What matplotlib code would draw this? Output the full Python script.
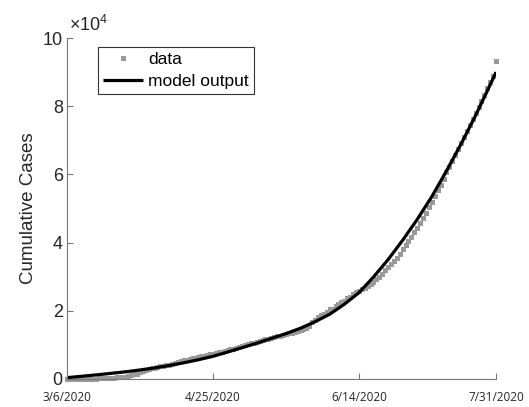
import numpy as np
from matplotlib import pyplot as plt

# cumulative cases, one value per day from 3/6/2020 to 7/31/2020
cases = [
	5, 6, 10, 20, 33, 49, 52, 64, 111, 140,
	142, 187, 202, 217, 230, 307, 380, 462, 552, 636,
	707, 803, 1075, 1418, 1546, 2084, 2311, 2633, 3018, 3094,
	3246, 3660, 3764, 3870, 4076, 4195, 4428, 4648, 4932, 5223,
	5453, 5660, 5878, 6087, 6259, 6459, 6599, 6710, 6981, 7192,
	7294, 7579, 7777, 7958, 8212, 8488, 8772, 8928, 9223, 9485,
	9684, 10004, 10343, 10463, 10610, 10794, 11086, 11350, 11618, 11876,
	12091, 12305, 12513, 12718, 12942, 13221, 13434, 13597, 13777, 14035,
	14319, 14669, 15049, 15588, 16634, 17224, 18086, 18638, 18997, 19748,
	20382, 20626, 21340, 21895, 22474, 22992, 23732, 24175, 24787, 25392,
	25930, 26420, 26781, 27238, 27799, 28459, 29400, 30052, 30682, 31825,
	32800, 33700, 34600, 35600, 36800, 38000, 39200, 40400, 41700, 43000,
	44400, 45800, 47300, 48800, 50400, 52000, 53700, 55300, 57000, 58700,
	60600, 62300, 64000, 65700, 67500, 69300, 71000, 72700, 74400, 76200,
	78000, 79800, 81600, 83400, 85200, 87000, 88900, 93354,
]
days = np.arange(len(cases))

# model output, every 5 days (plus last day)
model_days = [0, 5, 10, 15, 20, 25, 30, 35, 40, 45, 50, 55, 60, 65, 70, 75,
	80, 85, 90, 95, 100, 105, 110, 115, 120, 125, 130, 135, 140, 145, 147]
model = [400, 800, 1200, 1650, 2100, 2650, 3250, 3950, 4750, 5650, 6650,
	7900, 9200, 10500, 11900, 13300, 14900, 16800, 19000, 21900, 25300,
	29900, 35000, 40700, 46800, 53500, 61000, 68900, 77300, 86300, 90000]

x_ticks = [0, 50, 100, 147]
x_labels = ["3/6/2020", "4/25/2020", "6/14/2020", "7/31/2020"]
y_ticks = [0, 20000, 40000, 60000, 80000, 100000]
y_labels = ["0", "2", "4", "6", "8", "10"]

plt.rcParams["font.family"] = ["Liberation Sans", "DejaVu Sans"]
plt.rcParams["mathtext.default"] = "regular"

fig = plt.figure(figsize=(5.29, 4.07), dpi=100)
ax = fig.add_axes([0.1267, 0.0688, 0.811, 0.8378])

ax.plot(days, cases, "s", color="#999999", markersize=3.6,
	markeredgewidth=0, clip_on=False, label="data")
ax.plot(model_days, model, "-", color="black", linewidth=2.3,
	solid_capstyle="butt", label="model output")

ax.set_xlim(0, 147)
ax.set_ylim(0, 100000)
ax.set_xticks(x_ticks)
ax.set_xticklabels(x_labels, fontfamily="Open Sans", fontsize=8.5, color="#262626")
ax.set_yticks(y_ticks)
ax.set_yticklabels(y_labels, fontsize=13, color="#262626")
ax.tick_params(direction="in", length=4, width=0.8, color="#777777", pad=3)
ax.tick_params(axis="x", pad=9)

for side in ["top", "right"]:
	ax.spines[side].set_visible(False)
for side in ["left", "bottom"]:
	ax.spines[side].set_color("#777777")
	ax.spines[side].set_linewidth(0.8)

ax.set_ylabel("Cumulative Cases", fontsize=13.5, color="#262626", labelpad=4)
ax.text(0.005, 1.01, r"$\times10^4$", transform=ax.transAxes,
	fontsize=13, color="#262626", va="bottom", ha="left")

leg = ax.legend(loc="upper left", bbox_to_anchor=(0.072, 0.975), fontsize=12.5,
	frameon=True, fancybox=False, framealpha=1, edgecolor="#333333",
	borderpad=0.3, handlelength=2.3, handletextpad=0.3, labelspacing=0.4,
	borderaxespad=0)
leg.get_frame().set_linewidth(0.8)

fig.savefig("out.png", dpi=100)
